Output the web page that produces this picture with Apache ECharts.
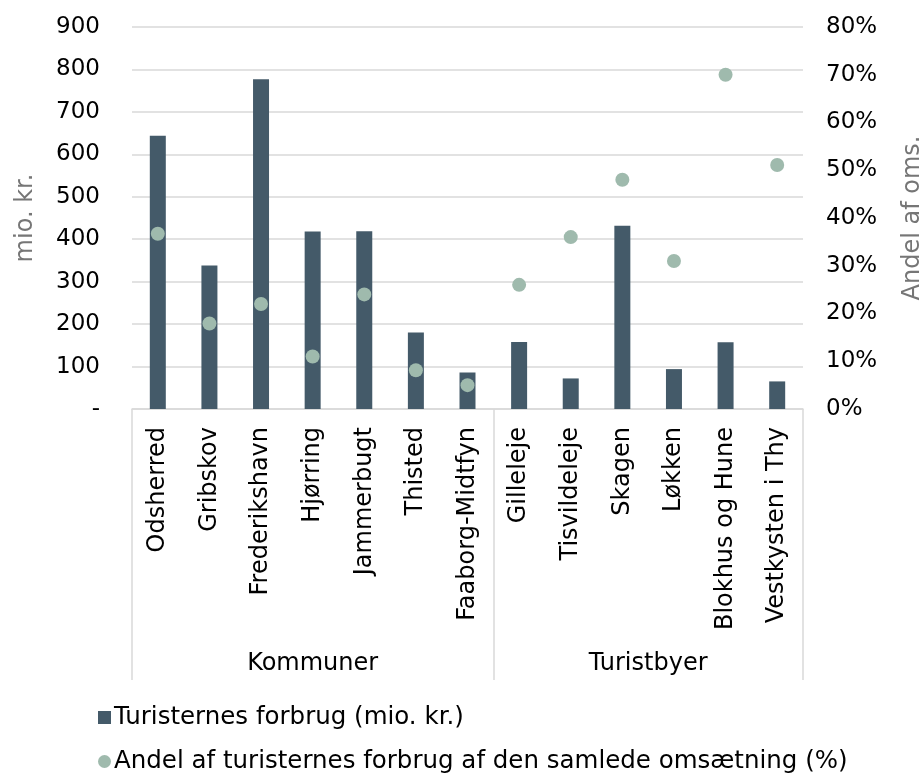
<!DOCTYPE html>
<html>
<head>
<meta charset="utf-8">
<script src="https://cdn.jsdelivr.net/npm/echarts@6/dist/echarts.min.js"></script>
<style>html,body{margin:0;padding:0;background:#fff}#c{width:921px;height:774px}</style>
</head>
<body>
<div id="c"></div>
<script>
var categories = ['Odsherred','Gribskov','Frederikshavn','Hjørring','Jammerbugt','Thisted','Faaborg-Midtfyn','Gilleleje','Tisvildeleje','Skagen','Løkken','Blokhus og Hune','Vestkysten i Thy'];
var spending = [644, 338, 777, 418, 419, 180, 86, 158, 72, 432, 94, 157, 65];
var sharePct = [36.7, 17.9, 22.0, 11.0, 24.0, 8.1, 5.0, 26.0, 36.0, 48.0, 31.0, 70.0, 51.1];
var groups = ['Kommuner', 'Turistbyer'];
var groupBounds = [0, 7, 13];
var groupCenters = [3.5, 10];
var seriesNames = ['Turisternes forbrug (mio. kr.)', 'Andel af turisternes forbrug af den samlede omsætning (%)'];

var FONT = 'Verdana, "DejaVu Sans", sans-serif';
function legendCfg(top, name, icon) {
  return {
    orient: 'horizontal', left: 98, top: top, padding: 0,
    itemWidth: 13, itemHeight: 13, itemStyle: {borderWidth: 0},
    textStyle: {fontFamily: FONT, fontSize: 24.5, color: '#000', padding: [0,0,0,-2]},
    data: [{name: name, icon: icon}]
  };
}
var chart = echarts.init(document.getElementById('c'), null, {renderer: 'canvas'});
chart.setOption({
  animation: false,
  textStyle: {fontFamily: FONT},
  grid: {left: 132, right: 118, top: 27, bottom: 365, containLabel: false, outerBoundsMode: 'none'},
  legend: [legendCfg(705, seriesNames[0], 'rect'), legendCfg(749, seriesNames[1], 'circle')],
  xAxis: [{
    type: 'category', data: categories,
    axisLine: {lineStyle: {color: '#d9d9d9', width: 1.5}},
    axisTick: {show: false},
    axisLabel: {rotate: 90, fontSize: 24, color: '#000', margin: 18, fontFamily: FONT, interval: 0}
  }, {
    type: 'value', min: 0, max: 13, position: 'bottom',
    axisLine: {show: false},
    splitLine: {show: false},
    axisTick: {show: true, customValues: groupBounds, length: 271, lineStyle: {color: '#d9d9d9', width: 1.5}},
    axisLabel: {customValues: groupCenters, fontSize: 24, color: '#000', margin: 243, fontFamily: FONT,
      formatter: function (v) { return groups[groupCenters.indexOf(v)]; }}
  }],
  yAxis: [{
    type: 'value', min: 0, max: 900, interval: 100,
    name: 'mio. kr.', nameLocation: 'middle', nameGap: 94, nameRotate: 90,
    nameTextStyle: {fontSize: 24, color: '#767676', fontFamily: FONT},
    axisLine: {show: false}, axisTick: {show: false},
    splitLine: {lineStyle: {color: '#d9d9d9', width: 1.5}},
    axisLabel: {fontSize: 23, color: '#000', margin: 32, fontFamily: FONT,
      formatter: function (v) { return v === 0 ? '-' : String(v); }}
  }, {
    type: 'value', min: 0, max: 80, interval: 10,
    name: 'Andel af oms.', nameLocation: 'middle', nameGap: 98, nameRotate: 90,
    nameTextStyle: {fontSize: 24, color: '#767676', fontFamily: FONT},
    axisLine: {show: false}, axisTick: {show: false}, splitLine: {show: false},
    axisLabel: {fontSize: 23, color: '#000', margin: 23, fontFamily: FONT, formatter: '{value}%'}
  }],
  series: [{
    name: seriesNames[0], type: 'bar', data: spending, barWidth: 16,
    itemStyle: {color: '#445a69'}, xAxisIndex: 0, yAxisIndex: 0
  }, {
    name: seriesNames[1], type: 'scatter', data: sharePct, symbolSize: 14,
    itemStyle: {color: '#9fbaad', opacity: 1}, xAxisIndex: 0, yAxisIndex: 1
  }]
});
</script>
</body>
</html>
